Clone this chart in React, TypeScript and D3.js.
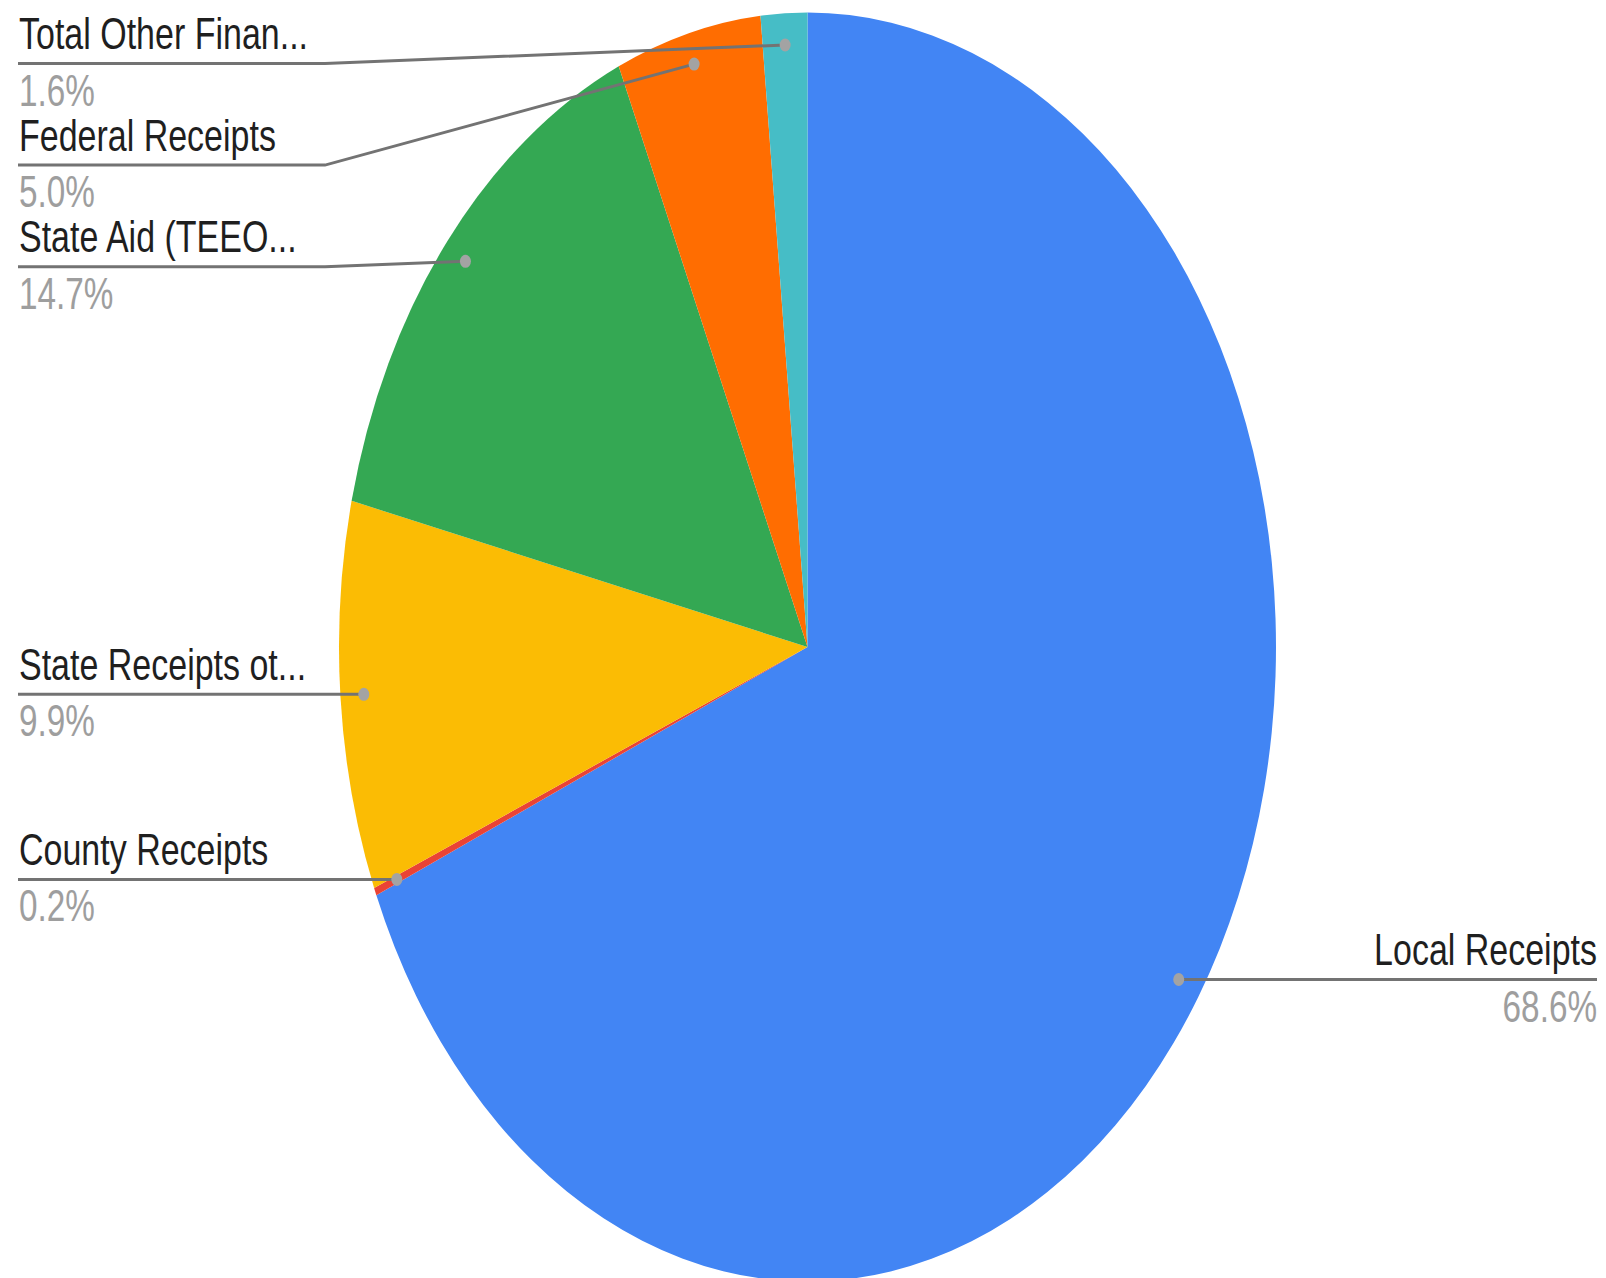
import React from 'react';
import * as d3 from 'd3';

const categories = [
  'Local Receipts',
  'County Receipts',
  'State Receipts ot...',
  'State Aid (TEEO...',
  'Federal Receipts',
  'Total Other Finan...',
];
const values = [68.6, 0.2, 9.9, 14.7, 5.0, 1.6];
const percentLabels = ['68.6%', '0.2%', '9.9%', '14.7%', '5.0%', '1.6%'];
const colors = ['#4285F4', '#EA4335', '#FBBC04', '#34A853', '#FF6D01', '#46BDC6'];

const W = 1606;
const H = 1278;
const cx = 807.5;
const cy = 647;
const rx = 468.5;
const ry = 634.5;
const dotR = 0.95;
const leftX = 19;
const rightX = 1597;
const elbowX = 325;
const minLineY = 63.5;
const gap = 101.6;
const nameFont = 34;
const pctFont = 33.3;
const nameScaleY = 1.32;
const pctScaleY = 1.36;

export default function App() {
  const pie = d3.pie<number>().sort(null).value((d) => d);
  const arcs = pie(values);
  const arcGen = d3.arc<d3.PieArcDatum<number>>().innerRadius(0).outerRadius(rx);

  const items = arcs.map((a, i) => {
    const mid = (a.startAngle + a.endAngle) / 2;
    const dx = cx + dotR * rx * Math.sin(mid);
    const dy = cy - dotR * ry * Math.cos(mid);
    return { i, dx, dy, left: dx < cx, lineY: dy };
  });

  const lefts = items.filter((d) => d.left).sort((a, b) => a.dy - b.dy);
  let prev = -Infinity;
  lefts.forEach((d, k) => {
    const lo = k === 0 ? minLineY : prev + gap;
    d.lineY = Math.max(d.dy, lo);
    prev = d.lineY;
  });

  return (
    <svg
      width={W}
      height={H}
      style={{ position: 'absolute', left: 0, top: 0, display: 'block', background: '#fff' }}
    >
      <g transform={`translate(${cx},${cy}) scale(1,${ry / rx})`}>
        {arcs.map((a, i) => (
          <path key={i} d={arcGen(a) || ''} fill={colors[i]} />
        ))}
      </g>
      {items.map((d) => {
        const pts: [number, number][] = d.left
          ? Math.abs(d.lineY - d.dy) < 0.5
            ? [[leftX - 1, d.lineY], [d.dx, d.dy]]
            : [[leftX - 1, d.lineY], [elbowX, d.lineY], [d.dx, d.dy]]
          : [[d.dx, d.dy], [rightX, d.lineY]];
        const line = d3.line()(pts) || '';
        const tx = d.left ? leftX : rightX;
        const anchor = d.left ? 'start' : 'end';
        return (
          <g key={d.i}>
            <path d={line} fill="none" stroke="#737373" strokeWidth={3} />
            <ellipse cx={d.dx} cy={d.dy} rx={5.5} ry={6.5} fill="#a3a3a3" />
            <text
              transform={`translate(${tx},${d.lineY - 14.5}) scale(1,${nameScaleY})`}
              textAnchor={anchor}
              fontFamily="'Liberation Sans', Arial, sans-serif"
              fontSize={nameFont}
              fill="#1f1f1f"
            >
              {categories[d.i]}
            </text>
            <text
              transform={`translate(${tx},${d.lineY + 42}) scale(1,${pctScaleY})`}
              textAnchor={anchor}
              fontFamily="'Liberation Sans', Arial, sans-serif"
              fontSize={pctFont}
              fill="#9e9e9e"
            >
              {percentLabels[d.i]}
            </text>
          </g>
        );
      })}
    </svg>
  );
}
